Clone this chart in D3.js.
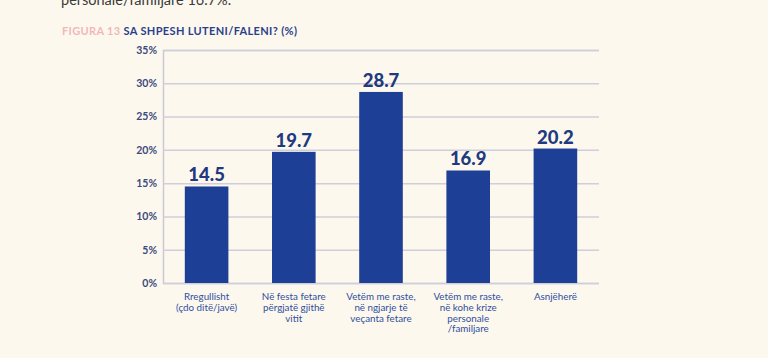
<!DOCTYPE html>
<html><head><meta charset="utf-8">
<script src="https://cdn.jsdelivr.net/npm/d3@7"></script>
<style>
html,body{margin:0;padding:0;background:#fdf8ee;}
svg{display:block;}
</style></head>
<body>
<svg id="chart" width="768" height="358"></svg>
<script>
const categories = [
  ["Rregullisht", "(çdo ditë/javë)"],
  ["Në festa fetare", "përgjatë gjithë", "vitit"],
  ["Vetëm me raste,", "në ngjarje të", "veçanta fetare"],
  ["Vetëm me raste,", "në kohe krize", "personale", "/familjare"],
  ["Asnjëherë"]
];
const values = [14.5, 19.7, 28.7, 16.9, 20.2];
const yTicks = [0, 5, 10, 15, 20, 25, 30, 35];
const introText = "personale/familjare 16.7%.";
const figLabel = "FIGURA 13";
const title = "SA SHPESH LUTENI/FALENI? (%)";

(function(){
const svg = d3.select("#chart");
const font = "Lato, 'Open Sans', sans-serif";
const mLeft = 163, mRight = 599, mTop = 50, mBottom = 283;

svg.append("rect").attr("width",768).attr("height",358).attr("fill","#fdf8ee");

svg.append("text").attr("x",61).attr("y",5).attr("font-family",font)
  .attr("font-size",14.5).attr("fill","#3a3a3a").text(introText);

const t = svg.append("text").attr("x",62).attr("y",35).attr("font-family",font)
  .attr("font-size",11).attr("font-weight","bold").attr("letter-spacing",0.35);
t.append("tspan").attr("fill","#f2b8b8").text(figLabel + " ");
t.append("tspan").attr("fill","#2a3f8c").text(title);

const x = d3.scaleBand().domain(d3.range(values.length)).range([mLeft,mRight])
  .paddingInner(0.5).paddingOuter(0.25);
const y = d3.scaleLinear().domain([0,35]).range([mBottom,mTop]);

const yAxis = d3.axisLeft(y).tickValues(yTicks).tickSize(-(mRight-mLeft)).tickPadding(6)
  .tickFormat(d => d + "%");
const gy = svg.append("g").attr("transform",`translate(${mLeft},0)`).call(yAxis);
gy.select(".domain").attr("stroke","#c9c8d6").attr("stroke-width",1.5);
gy.selectAll(".tick line").attr("stroke","#cfcedb").attr("stroke-width",1.5);
gy.selectAll(".tick text").attr("font-family",font).attr("font-size",10.5)
  .attr("font-weight","bold").attr("fill","#3b4a7c");

svg.selectAll("rect.bar").data(values).join("rect").attr("class","bar")
  .attr("x",(d,i)=>x(i)).attr("width",x.bandwidth())
  .attr("y",d=>y(d)).attr("height",d=>mBottom-y(d)).attr("fill","#1e3f96");

svg.selectAll("text.val").data(values).join("text").attr("class","val")
  .attr("x",(d,i)=>x(i)+x.bandwidth()/2).attr("y",d=>y(d)-5)
  .attr("text-anchor","middle").attr("font-family",font).attr("font-size",18.5)
  .attr("font-weight",900).attr("fill","#1f3a80").text(d=>d.toFixed(1));

const cg = svg.selectAll("g.cat").data(categories).join("g").attr("class","cat");
cg.each(function(lines,i){
  d3.select(this).selectAll("text").data(lines).join("text")
    .attr("text-anchor","middle").attr("font-family",font).attr("font-size",9.8)
    .attr("fill","#2f4f9e")
    .attr("x",x(i)+x.bandwidth()/2).attr("y",(d,j)=>300+j*10.8).text(d=>d);
});
})();
</script>
</body></html>
